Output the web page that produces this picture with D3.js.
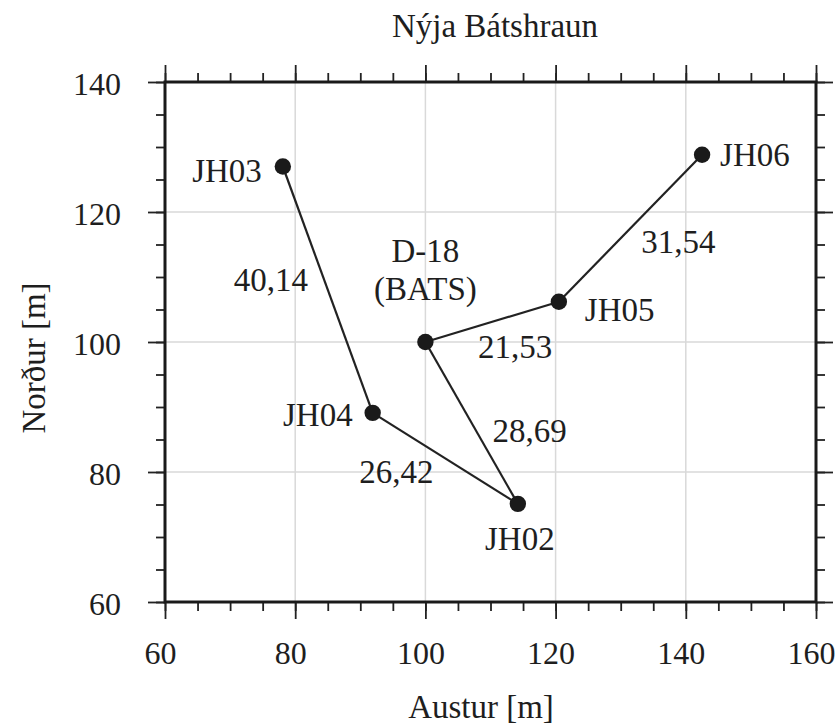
<!DOCTYPE html>
<html><head><meta charset="utf-8">
<script src="https://cdnjs.cloudflare.com/ajax/libs/d3/7.8.5/d3.min.js"></script>
</head><body style="margin:0;background:#fff">
<script>
// ---- data ----
const stations = ["D-18", "JH02", "JH03", "JH04", "JH05", "JH06"];
const eastM = [100, 114.2, 78.1, 91.9, 120.5, 142.5];
const northM = [100, 75.1, 127.0, 89.1, 106.2, 128.8];
const linkFrom = ["JH03", "JH04", "JH02", "D-18", "JH05"];
const linkTo = ["JH04", "JH02", "D-18", "JH05", "JH06"];
const distances = ["40,14", "26,42", "28,69", "21,53", "31,54"];
const xTicks = [60, 80, 100, 120, 140, 160];
const yTicks = [60, 80, 100, 120, 140];
const xMinor = d3.range(60, 161, 5);
const yMinor = d3.range(60, 141, 5);
const title = "Nýja Bátshraun";
const xTitle = "Austur [m]";
const yTitle = "Norður [m]";

// ---- layout (pixel offsets of labels) ----
const stationLabelLayout = {
  "JH03": {anchor: "end", dx: -21, dy: 15},
  "JH06": {anchor: "start", dx: 18, dy: 11},
  "D-18": {anchor: "middle", dx: 0, dy: -80},
  "JH05": {anchor: "start", dx: 26, dy: 19},
  "JH04": {anchor: "end", dx: -20, dy: 13},
  "JH02": {anchor: "middle", dx: 2, dy: 46}
};
const distLabelOffset = [[-57, 1], [-49, 25], [58, 19], [23, 36], [48, 25]];

const FONT = "'Liberation Serif', monospace";
const INK = "#1e1e1e";

const W = 837, H = 725;
const m = {left: 165, top: 82, right: 21, bottom: 123};
const iw = W - m.left - m.right, ih = H - m.top - m.bottom;

const svg = d3.select("body").append("svg").attr("width", W).attr("height", H)
  .style("display", "block");
const g = svg.append("g").attr("transform", `translate(${m.left},${m.top})`);

const x = d3.scaleLinear().domain([60, 160]).range([0, iw]);
const y = d3.scaleLinear().domain([60, 140]).range([ih, 0]);

function txt(sel) {
  return sel.attr("font-family", "Liberation Serif")
    .style("font-family", FONT, "important").attr("fill", INK);
}

// grid
g.append("g").selectAll("line").data(xTicks.slice(1, -1)).join("line")
  .attr("x1", d => x(d)).attr("x2", d => x(d)).attr("y1", 0).attr("y2", ih)
  .attr("stroke", "#d9d9d9").attr("stroke-width", 1.5);
g.append("g").selectAll("line").data(yTicks.slice(1, -1)).join("line")
  .attr("y1", d => y(d)).attr("y2", d => y(d)).attr("x1", 0).attr("x2", iw)
  .attr("stroke", "#d9d9d9").attr("stroke-width", 1.5);

function styleAxis(sel) {
  sel.select(".domain").remove();
  sel.attr("font-family", "Liberation Serif");
  sel.selectAll(".tick line").attr("stroke", "#222").attr("stroke-width", 1.8);
}
const minorSize = 9, majorSize = 17;
// bottom
g.append("g").attr("transform", `translate(0,${ih})`)
  .call(d3.axisBottom(x).tickValues(xMinor).tickSize(minorSize).tickFormat(""))
  .call(styleAxis);
const bx = g.append("g").attr("transform", `translate(0,${ih})`)
  .call(d3.axisBottom(x).tickValues(xTicks).tickSize(majorSize).tickPadding(22).tickFormat(d3.format("d")))
  .call(styleAxis);
bx.selectAll(".tick text").call(txt).attr("font-size", 32).attr("dx", -5).attr("dy", "0.71em");
// top
g.append("g").call(d3.axisTop(x).tickValues(xMinor).tickSize(minorSize).tickFormat("")).call(styleAxis);
g.append("g").call(d3.axisTop(x).tickValues(xTicks).tickSize(majorSize).tickFormat("")).call(styleAxis);
// left
g.append("g").call(d3.axisLeft(y).tickValues(yMinor).tickSize(minorSize).tickFormat("")).call(styleAxis);
const ly = g.append("g")
  .call(d3.axisLeft(y).tickValues(yTicks).tickSize(majorSize).tickPadding(27).tickFormat(d3.format("d")))
  .call(styleAxis);
ly.selectAll(".tick text").call(txt).attr("font-size", 32).attr("dy", "0.4em");
// right
g.append("g").attr("transform", `translate(${iw},0)`)
  .call(d3.axisRight(y).tickValues(yMinor).tickSize(minorSize).tickFormat("")).call(styleAxis);
g.append("g").attr("transform", `translate(${iw},0)`)
  .call(d3.axisRight(y).tickValues(yTicks).tickSize(majorSize).tickFormat("")).call(styleAxis);

// frame
g.append("rect").attr("x", 0).attr("y", 0).attr("width", iw).attr("height", ih)
  .attr("fill", "none").attr("stroke", "#1a1a1a").attr("stroke-width", 3);

// data points
const pts = stations.map((s, i) => ({name: s, e: eastM[i], n: northM[i]}));
const byName = Object.fromEntries(pts.map(p => [p.name, p]));
const links = linkFrom.map((f, i) => ({a: byName[f], b: byName[linkTo[i]], label: distances[i], off: distLabelOffset[i]}));

g.append("g").selectAll("line").data(links).join("line")
  .attr("x1", d => x(d.a.e)).attr("y1", d => y(d.a.n))
  .attr("x2", d => x(d.b.e)).attr("y2", d => y(d.b.n))
  .attr("stroke", "#222").attr("stroke-width", 2.2);

g.append("g").selectAll("circle").data(pts).join("circle")
  .attr("cx", d => x(d.e)).attr("cy", d => y(d.n)).attr("r", 8.2).attr("fill", "#1a1a1a");

// distance labels
g.append("g").selectAll("text").data(links).join("text")
  .attr("x", d => (x(d.a.e) + x(d.b.e)) / 2 + d.off[0])
  .attr("y", d => (y(d.a.n) + y(d.b.n)) / 2 + d.off[1])
  .attr("text-anchor", "middle").attr("font-size", 33).call(txt).text(d => d.label);

// station labels
g.append("g").selectAll("text").data(pts).join("text")
  .attr("x", d => x(d.e) + stationLabelLayout[d.name].dx)
  .attr("y", d => y(d.n) + stationLabelLayout[d.name].dy)
  .attr("text-anchor", d => stationLabelLayout[d.name].anchor)
  .attr("font-size", 33).call(txt).text(d => d.name);
g.append("text").attr("x", x(byName["D-18"].e)).attr("y", y(byName["D-18"].n) - 42)
  .attr("text-anchor", "middle").attr("font-size", 33).call(txt).text("(BATS)");

// titles
svg.append("text").attr("x", 495).attr("y", 37).attr("text-anchor", "middle")
  .attr("font-size", 33).call(txt).text(title);
svg.append("text").attr("x", 481).attr("y", 718).attr("text-anchor", "middle")
  .attr("font-size", 33).call(txt).text(xTitle);
svg.append("text").attr("transform", "translate(45,358) rotate(-90)").attr("text-anchor", "middle")
  .attr("font-size", 33).call(txt).text(yTitle);
</script>
</body></html>
